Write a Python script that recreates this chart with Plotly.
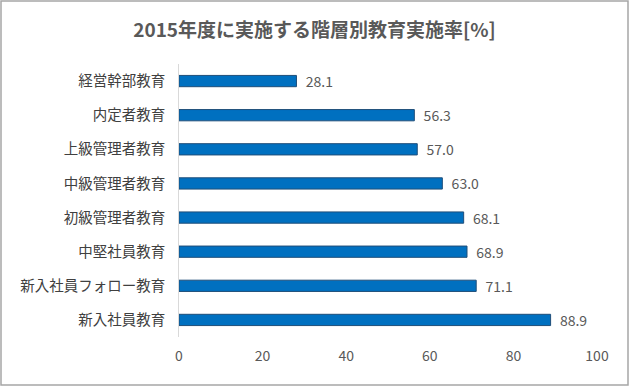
import plotly.graph_objects as go

categories = ["経営幹部教育", "内定者教育", "上級管理者教育", "中級管理者教育",
              "初級管理者教育", "中堅社員教育", "新入社員フォロー教育", "新入社員教育"]
values = [28.1, 56.3, 57.0, 63.0, 68.1, 68.9, 71.1, 88.9]
tick_vals = [0, 20, 40, 60, 80, 100]

W, H = 629, 386
ml, mr, mt, mb = 179, 32, 64, 49
pw, ph = W - ml - mr, H - mt - mb

font = "Noto Sans CJK JP, sans-serif"

fig = go.Figure(go.Bar(
    y=categories, x=values, orientation="h",
    marker=dict(color="#0070C0", line=dict(color="#1F4E79", width=1)),
    text=[f"  {v:.1f}" for v in values], textposition="outside",
    constraintext="none",
    textfont=dict(size=14, color="#595959", family=font),
    cliponaxis=False,
))

fig.update_layout(
    width=W, height=H,
    margin=dict(l=ml, r=mr, t=mt, b=mb),
    paper_bgcolor="white", plot_bgcolor="white",
    bargap=0.67,
    showlegend=False,
    title=dict(text="<b>2015年度に実施する階層別教育実施率[%]</b>",
               x=0.5, xref="container", xanchor="center", y=1 - 30 / H, yanchor="middle",
               font=dict(size=19, color="#595959", family=font)),
    xaxis=dict(range=[0, 100], tickvals=tick_vals, showgrid=False, zeroline=False,
               showline=False, ticks="", ticklabelstandoff=9,
               tickfont=dict(size=14, color="#595959", family=font)),
    yaxis=dict(categoryorder="array", categoryarray=categories[::-1],
               autorange=True, showgrid=False, zeroline=False,
               showline=True, linecolor="#D9D9D9", linewidth=1, ticks="",
               ticksuffix="   ",
               tickfont=dict(size=14.5, color="#404040", family=font)),
    shapes=[dict(type="rect", xref="paper", yref="paper",
                 x0=-(ml - 1) / pw, x1=1 + (mr - 1) / pw,
                 y0=-(mb - 1) / ph, y1=1 + (mt - 1) / ph,
                 line=dict(color="#A6A6A6", width=1.5), fillcolor="rgba(0,0,0,0)",
                 layer="below")],
)

fig.write_html("out.html", config={"displayModeBar": False},
               post_script="document.body.style.margin='0';document.body.style.overflow='hidden';")
